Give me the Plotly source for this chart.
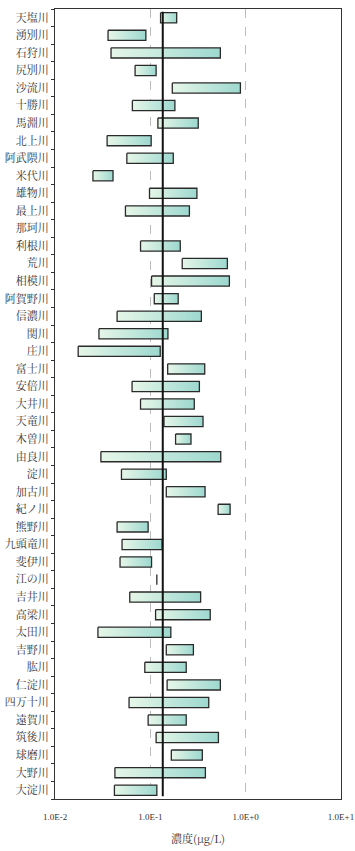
import plotly.graph_objects as go

# River names, top to bottom
rivers = [
    "天塩川", "湧別川", "石狩川", "尻別川", "沙流川", "十勝川", "馬淵川", "北上川",
    "阿武隈川", "米代川", "雄物川", "最上川", "那珂川", "利根川", "荒川", "相模川",
    "阿賀野川", "信濃川", "関川", "庄川", "富士川", "安倍川", "大井川", "天竜川",
    "木曽川", "由良川", "淀川", "加古川", "紀ノ川", "熊野川", "九頭竜川", "斐伊川",
    "江の川", "吉井川", "高梁川", "太田川", "吉野川", "肱川", "仁淀川", "四万十川",
    "遠賀川", "筑後川", "球磨川", "大野川", "大淀川",
]

# Minimum concentration per river (μg/L); None = no data
conc_min = [
    0.128, 0.036, 0.0387, 0.0692, 0.170, 0.0648, 0.120, 0.0352,
    0.0567, 0.0250, 0.098, 0.0548, None, 0.0789, 0.216, 0.103,
    0.110, 0.0448, 0.0289, 0.0175, 0.152, 0.0643, 0.0789, 0.139,
    0.184, 0.0303, 0.0498, 0.147, 0.514, 0.0448, 0.0505, 0.0481,
    0.117, 0.0608, 0.1135, 0.0282, 0.147, 0.0875, 0.150, 0.0598,
    0.0948, 0.115, 0.166, 0.0425, 0.0420,
]

# Maximum concentration per river (μg/L)
conc_max = [
    0.189, 0.0898, 0.543, 0.115, 0.881, 0.181, 0.318, 0.102,
    0.174, 0.0406, 0.308, 0.257, None, 0.206, 0.643, 0.675,
    0.196, 0.343, 0.153, 0.127, 0.372, 0.327, 0.289, 0.357,
    0.267, 0.548, 0.147, 0.375, 0.687, 0.0948, 0.133, 0.103,
    0.117, 0.337, 0.425, 0.164, 0.283, 0.238, 0.543, 0.410,
    0.238, 0.518, 0.351, 0.378, 0.117,
]

# Overall reference level drawn as a vertical line
median_value = 0.135

x_tick_vals = [0.01, 0.1, 1, 10]
x_tick_text = ["1.0E-2", "1.0E-1", "1.0E+0", "1.0E+1"]

HALF = 0.29
EDGE = "#2a2a2a"
GRAD = [[0, "#e6f6e8"], [1, "#9dd8cf"]]

fig = go.Figure()

for i, (lo, hi) in enumerate(zip(conc_min, conc_max)):
    if lo is None or hi is None:
        continue
    if hi > lo:
        fig.add_trace(go.Scatter(
            x=[lo, hi, hi, lo, lo],
            y=[i - HALF, i - HALF, i + HALF, i + HALF, i - HALF],
            mode="lines",
            fill="toself",
            fillgradient=dict(type="horizontal", colorscale=GRAD),
            line=dict(color=EDGE, width=1.3),
            hoverinfo="skip",
            showlegend=False,
        ))
    else:
        fig.add_trace(go.Scatter(
            x=[lo, hi],
            y=[i - HALF, i + HALF],
            mode="lines",
            line=dict(color=EDGE, width=1.3),
            hoverinfo="skip",
            showlegend=False,
        ))

fig.add_trace(go.Scatter(
    x=[median_value, median_value],
    y=[-0.35, len(rivers) - 1 + 0.35],
    mode="lines",
    line=dict(color="#111111", width=2),
    hoverinfo="skip",
    showlegend=False,
))

fig.update_layout(
    width=355,
    height=851,
    margin=dict(l=55, r=14, t=9, b=52),
    paper_bgcolor="white",
    plot_bgcolor="white",
    showlegend=False,
    font=dict(family="Liberation Serif, serif", color="#333333"),
)

fig.update_xaxes(
    type="log",
    range=[-2.0001, 1.0001],
    automargin=False,
    tickvals=x_tick_vals,
    ticktext=x_tick_text,
    tickfont=dict(size=9, family="Liberation Serif, serif", color="#333333"),
    ticklabeloverflow="allow",
    ticklabelstandoff=9,
    ticks="",
    showgrid=True,
    gridcolor="#bdbdbd",
    griddash="dash",
    gridwidth=1,
    zeroline=False,
    showline=True,
    linecolor="#333333",
    linewidth=1.3,
    mirror=True,
    title=dict(text="濃度(μg/L)", standoff=14,
               font=dict(size=11, family="Noto Serif CJK JP, Noto Sans CJK JP, serif", color="#333333")),
)

fig.update_yaxes(
    tickmode="array",
    tickvals=list(range(len(rivers))),
    ticktext=rivers,
    tickfont=dict(size=11, family="Noto Serif CJK JP, Noto Sans CJK JP, serif", color="#333333"),
    range=[len(rivers) - 0.5, -0.5],
    automargin=False,
    ticks="",
    ticklabelstandoff=3,
    minor=dict(tickmode="linear", tick0=0.5, dtick=1, ticks="outside", ticklen=3,
               tickcolor="#333333", showgrid=False),
    showgrid=False,
    zeroline=False,
    showline=True,
    linecolor="#333333",
    linewidth=1.3,
    mirror=True,
)

fig.write_html("out.html")
